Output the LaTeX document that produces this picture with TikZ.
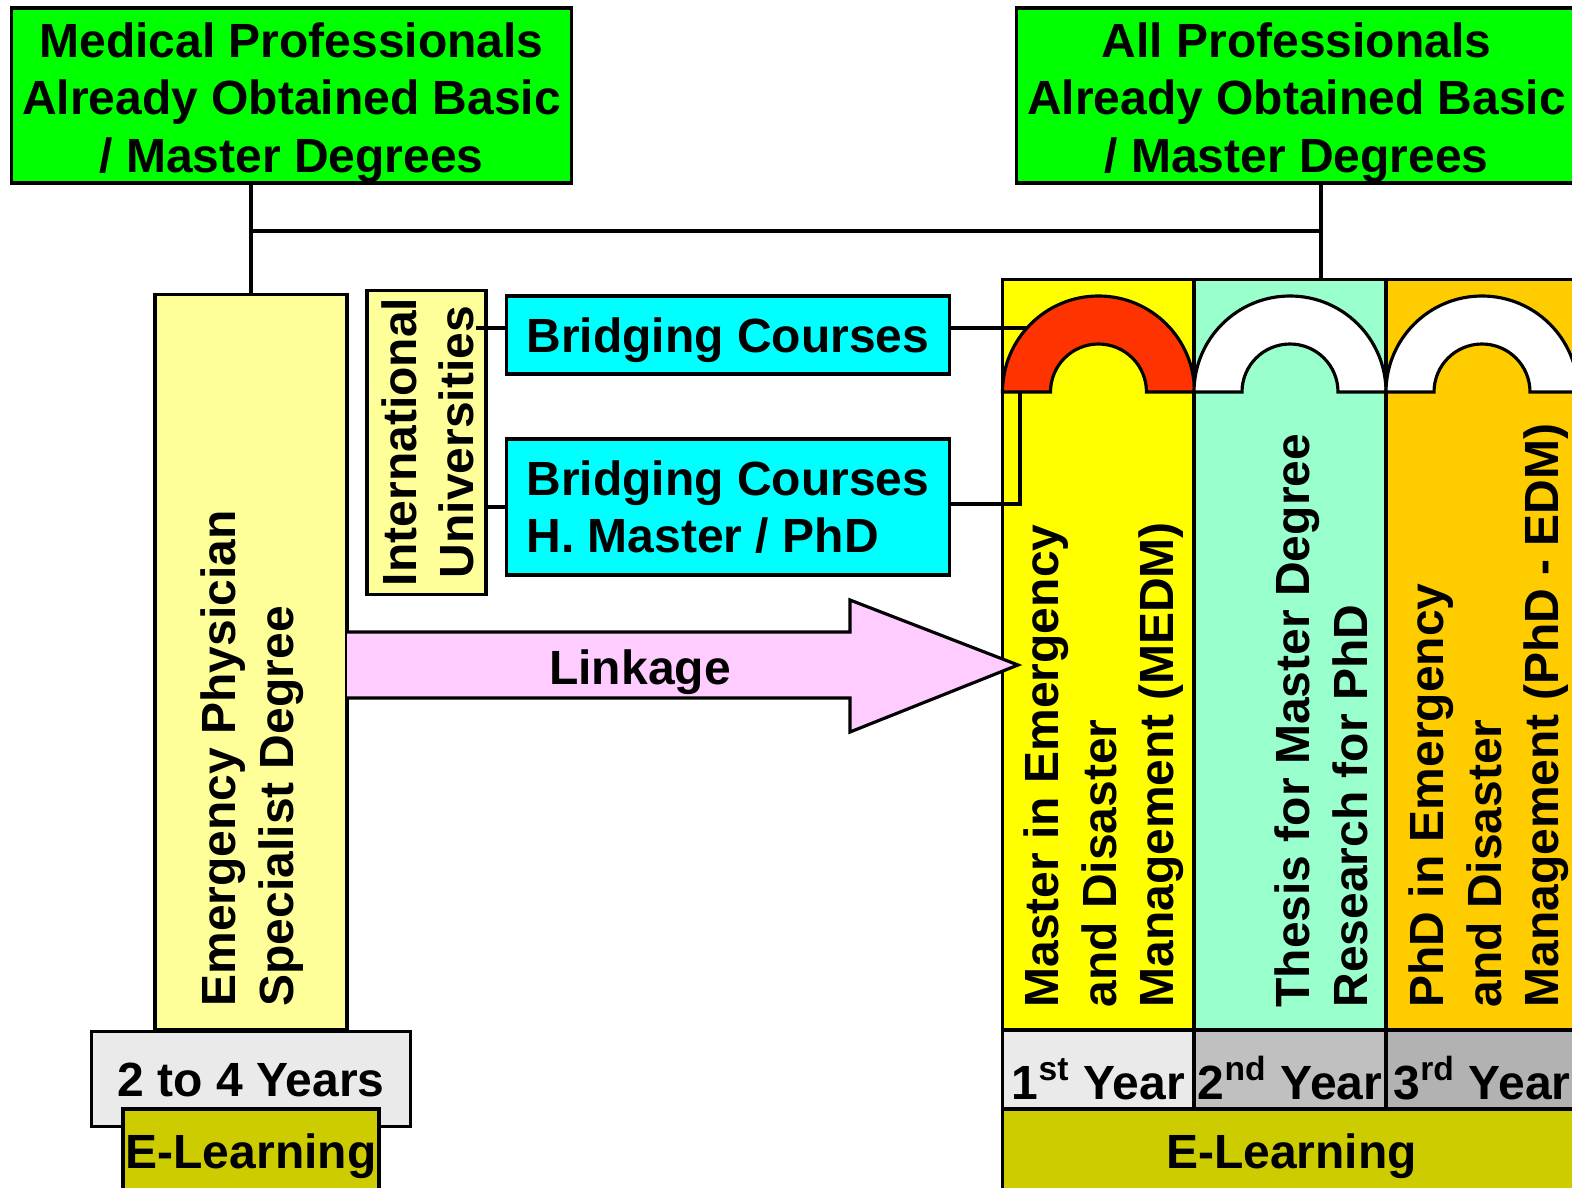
\documentclass[tikz,border=0pt]{standalone}
\usepackage{fontspec}
\setmainfont{Liberation Sans}
\usetikzlibrary{calc}

\definecolor{grn}{HTML}{00FF00}
\definecolor{paleyel}{HTML}{FFFF99}
\definecolor{cyn}{HTML}{00FFFF}
\definecolor{yel}{HTML}{FFFF00}
\definecolor{aqua}{HTML}{99FFCC}
\definecolor{orng}{HTML}{FFCC00}
\definecolor{archred}{HTML}{FF3300}
\definecolor{pnk}{HTML}{FFCCFF}
\definecolor{gryA}{HTML}{EAEAEA}
\definecolor{gryB}{HTML}{C0C0C0}
\definecolor{gryC}{HTML}{B2B2B2}
\definecolor{elearn}{HTML}{CCCC00}

\begin{document}
\begin{tikzpicture}[x=0.01cm,y=-0.01cm,line width=0.9pt,
   every node/.style={font=\fontsize{13.65pt}{16.4pt}\selectfont\bfseries},
   box/.style={draw,inner sep=0,align=center},
   one/.style={text height=9.8pt,text depth=0pt},
   yearlbl/.style={text height=16.6pt,text depth=0pt},
   vtext/.style={rotate=90,anchor=west,align=left,inner sep=0}]
   \useasboundingbox (0,0) rectangle (1572,1188);
   \clip (0,0) rectangle (1572,1188);

   \node[box,fill=grn,minimum width=5.59cm,minimum height=1.75cm] (med) at (291.5,95.5) {};
   \node[align=center,inner sep=0] (medtxt) at ($(med.center)+(0,7)$) {Medical Professionals\\Already Obtained Basic\\/ Master Degrees};
   \node[box,fill=grn,minimum width=5.59cm,minimum height=1.75cm] (allp) at (1296.5,95.5) {};
   \node[align=center,inner sep=0] (allptxt) at ($(allp.center)+(0,7)$) {All Professionals\\Already Obtained Basic\\/ Master Degrees};

   \node[box,fill=paleyel,minimum width=1.92cm,minimum height=7.34cm] (emerg) at (251,662) {};
   \node[vtext] (emergtxt) at (252,1008) {Emergency Physician\\Specialist Degree};
   \node[box,one,fill=gryA,minimum width=3.18cm,minimum height=0.95cm] (yrs) at (251,1079) {2 to 4 Years};
   \node[box,one,fill=elearn,minimum width=2.56cm,minimum height=0.84cm] (elL) at (251,1151) {E-Learning};

   \node[box,fill=paleyel,minimum width=1.19cm,minimum height=3.03cm] (iu) at (426.5,442.5) {};
   \node[rotate=90,align=center,inner sep=0] (iutxt) at (428,442) {International\\Universities};
   \node[box,one,fill=cyn,minimum width=4.42cm,minimum height=0.78cm] (br1) at (728,335) {Bridging Courses};
   \node[box,fill=cyn,minimum width=4.42cm,minimum height=1.36cm,align=left] (br2) at (728,507) {Bridging Courses\\H. Master / PhD};

   \node[box,fill=yel,minimum width=1.915cm,minimum height=7.5cm] (col1) at (1098.5,655) {};
   \node[box,fill=aqua,minimum width=1.92cm,minimum height=7.5cm] (col2) at (1290,655) {};
   \node[box,fill=orng,minimum width=1.92cm,minimum height=7.5cm] (col3) at (1482,655) {};
   \node[box,yearlbl,fill=gryA,minimum width=1.915cm,minimum height=0.8cm] (yr1) at (1098.5,1070) {1\textsuperscript{st} Year};
   \node[box,yearlbl,fill=gryB,minimum width=1.92cm,minimum height=0.8cm] (yr2) at (1290,1070) {2\textsuperscript{nd} Year};
   \node[box,yearlbl,fill=gryC,minimum width=1.92cm,minimum height=0.8cm] (yr3) at (1482,1070) {3\textsuperscript{rd} Year};
   \node[box,one,fill=elearn,minimum width=5.77cm,minimum height=0.84cm] (elR) at (1291.5,1151) {E-Learning};

   \coordinate (base) at (0,392);
   \foreach \n/\f in {col1/archred,col2/white,col3/white}
      \filldraw[fill=\f] (\n |- base) ++(-96,0) arc(180:360:96) -- ++(-48,0) arc(360:180:48) -- cycle;

   \node[vtext] (t1) at (1104,1009) {Master in Emergency\\and Disaster\\Management (MEDM)};
   \node[vtext] (t2) at (1321,1009) {Thesis for Master Degree\\Research for PhD};
   \node[vtext] (t3) at (1489,1009) {PhD in Emergency\\and Disaster\\Management (PhD - EDM)};

   \filldraw[fill=pnk] (347,632) -- (850,632) -- (850,600) -- (1018,665) -- (850,732) -- (850,698) -- (347,698);
   \node[one,inner sep=0] (link) at (640,667) {Linkage};

   \coordinate (hub) at (1321,231);
   \draw (emerg.north) -- (emerg.north |- med.south);
   \draw (emerg.north |- hub) -- (hub);
   \draw (hub |- allp.south) -- (hub |- col2.north);

   \coordinate (l1) at (476,328);
   \draw (br1.west |- l1) -- (l1);
   \draw (br2.west) -- (iu.east |- br2.west);

   \coordinate (a1hit) at ($(col1 |- base)+(221.8:96)$);
   \draw (br1.east |- a1hit) -- (a1hit);
   \coordinate (kink) at (1020,504);
   \draw (br2.east |- kink) -- (kink) -- (kink |- base);
\end{tikzpicture}
\end{document}
